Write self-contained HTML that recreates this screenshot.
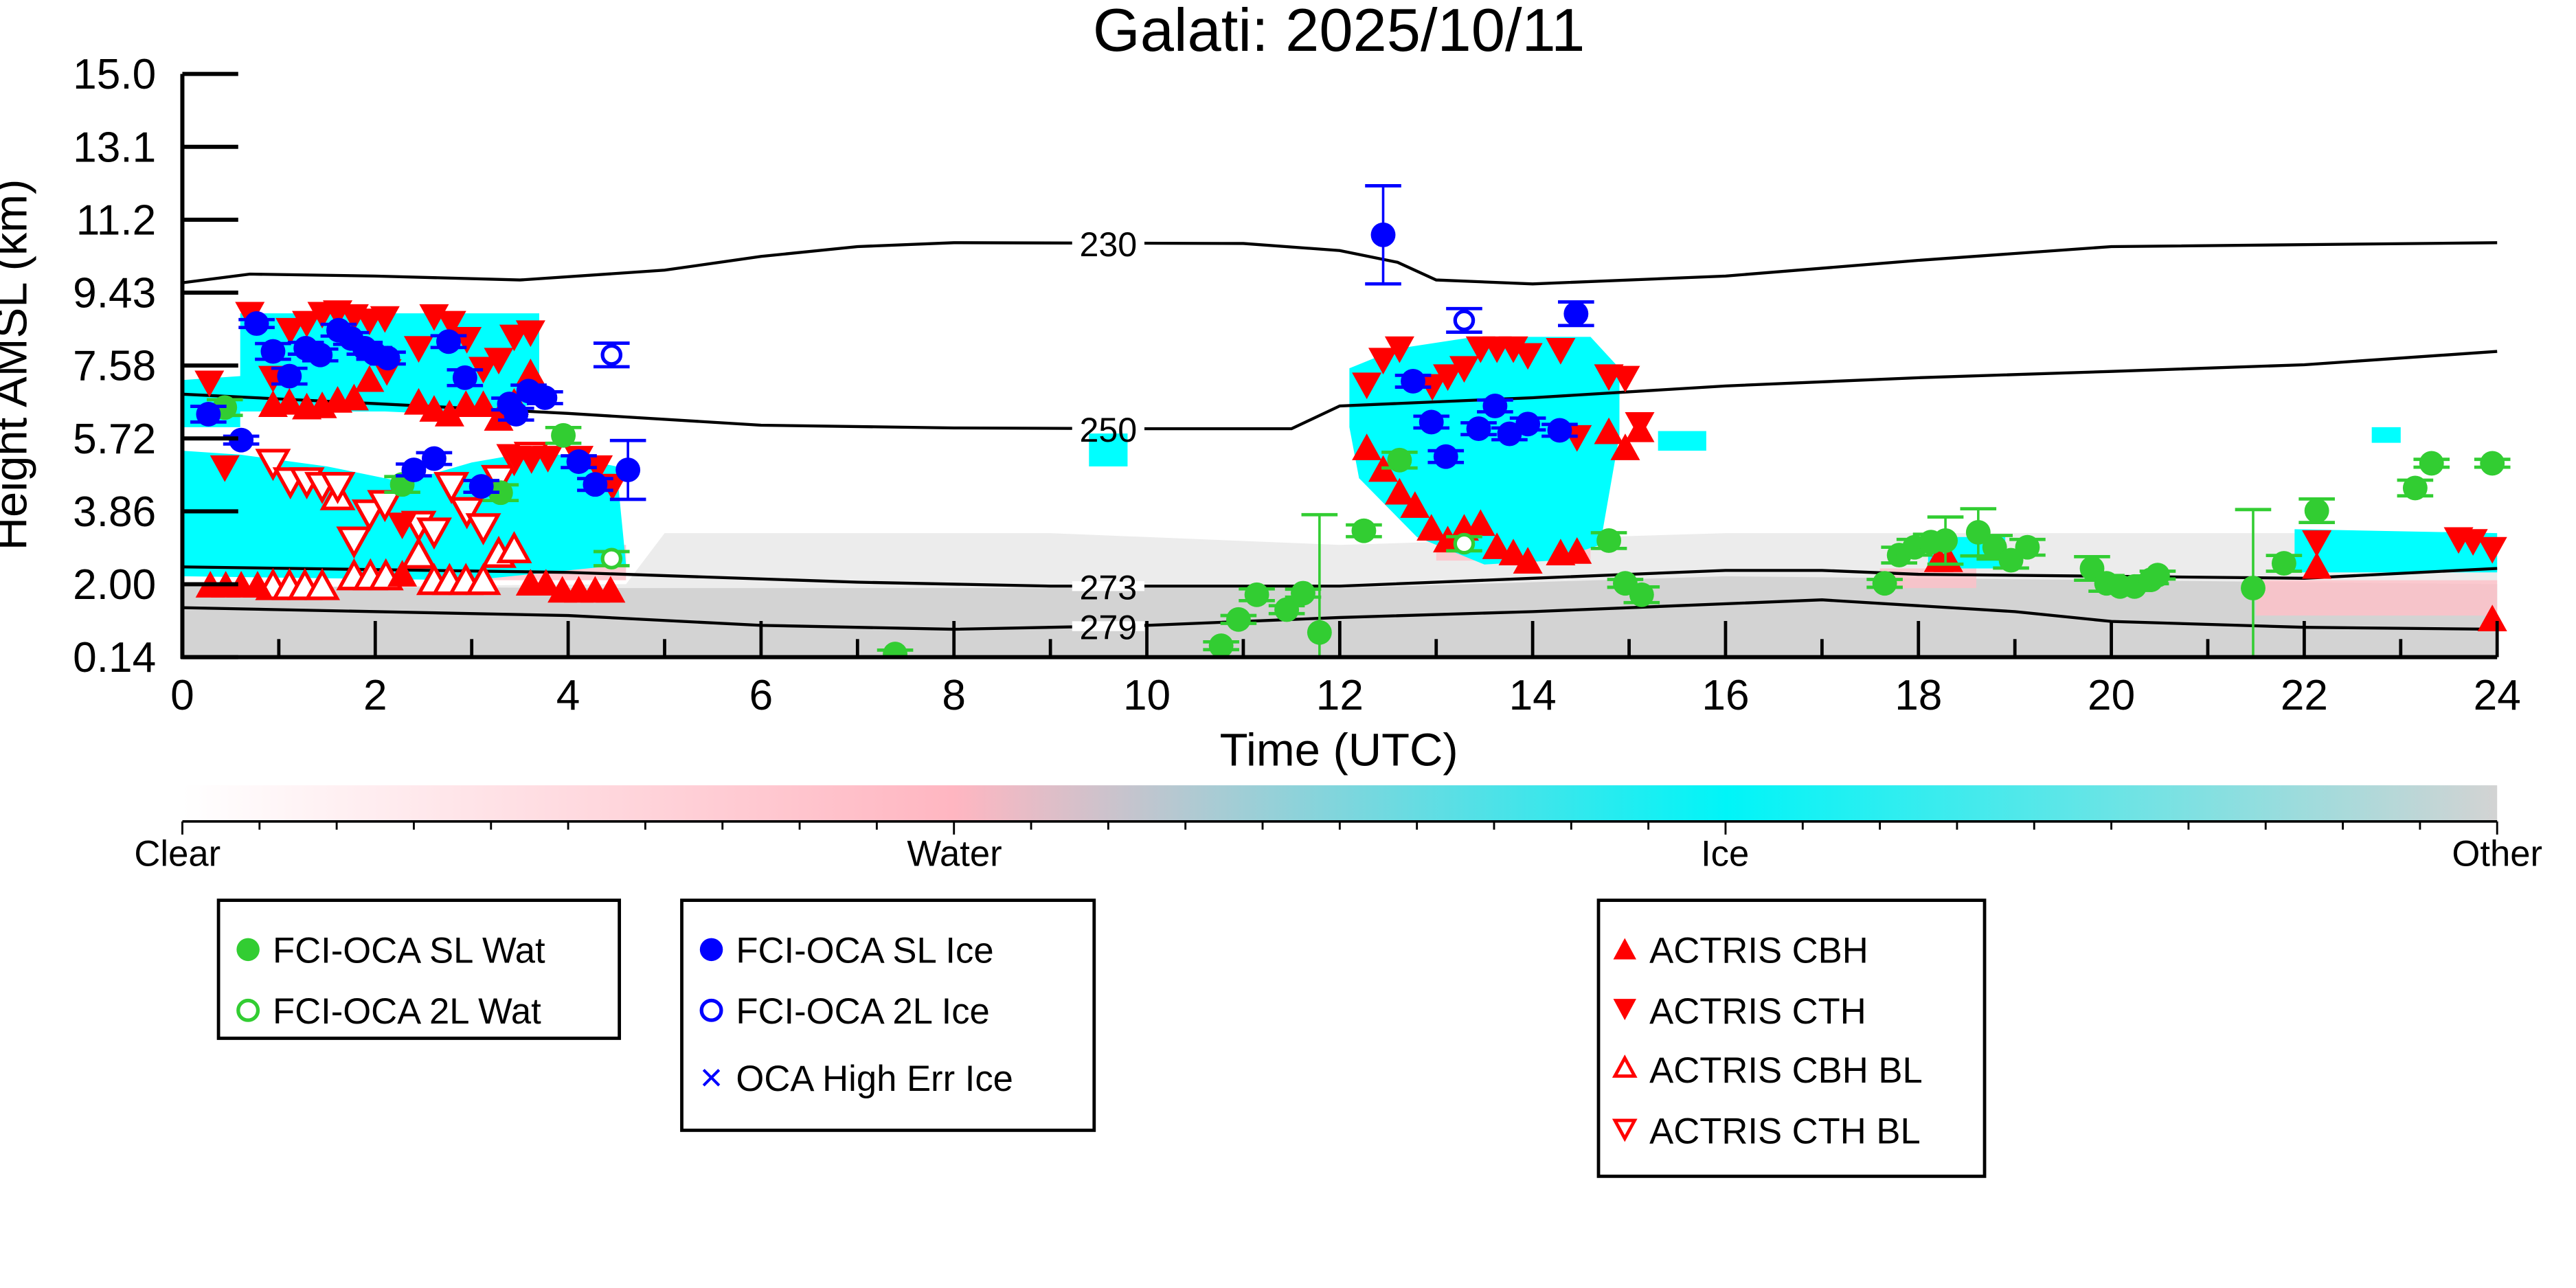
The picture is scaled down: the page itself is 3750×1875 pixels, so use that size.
<!DOCTYPE html>
<html><head><meta charset="utf-8"><style>html,body{margin:0;padding:0;background:#fff}svg{display:block}text{font-family:"Liberation Sans",sans-serif}</style></head>
<body>
<svg id="chart" xmlns="http://www.w3.org/2000/svg" width="3750" height="1875" viewBox="0 0 1568 784">
<defs>
<clipPath id="plotclip"><rect x="111" y="40" width="1420" height="360"/></clipPath>
<linearGradient id="cb" x1="0" x2="1"><stop offset="0" stop-color="#fff"/><stop offset="0.333" stop-color="#ffb6c1"/><stop offset="0.667" stop-color="#00f5f8"/><stop offset="1" stop-color="#d3d3d3"/></linearGradient>
</defs>
<rect width="1568" height="784" fill="#fff"/>
<g id="bg" clip-path="url(#plotclip)"></g>
<g id="contours"></g>
<g id="marks" clip-path="url(#plotclip)"></g>
<g id="axes"></g>
<text x="815" y="31" font-size="37" text-anchor="middle">Galati: 2025/10/11</text>
<text x="815" y="466" font-size="28" text-anchor="middle">Time (UTC)</text>
<text transform="translate(16,222) rotate(-90)" font-size="28" text-anchor="middle">Height AMSL (km)</text>
<g>
<rect x="111" y="478" width="1409" height="22" fill="url(#cb)"/>
<line x1="111" y1="500" x2="1520" y2="500" stroke="#000" stroke-width="1.5"/>
<g id="cbticks"></g>
<text x="108" y="527" font-size="22" text-anchor="middle">Clear</text>
<text x="581" y="527" font-size="22" text-anchor="middle">Water</text>
<text x="1050" y="527" font-size="22" text-anchor="middle">Ice</text>
<text x="1520" y="527" font-size="22" text-anchor="middle">Other</text>
</g>
<g>
<rect x="133" y="548" width="244" height="84" fill="#fff" stroke="#000" stroke-width="2"/>
<circle cx="151" cy="578" r="7" fill="#32cd32"/><text x="166" y="586" font-size="22">FCI-OCA SL Wat</text>
<circle cx="151" cy="615" r="6" fill="none" stroke="#32cd32" stroke-width="2.2"/><text x="166" y="623" font-size="22">FCI-OCA 2L Wat</text>
</g>
<g>
<rect x="415" y="548" width="251" height="140" fill="#fff" stroke="#000" stroke-width="2"/>
<circle cx="433" cy="578" r="7" fill="#0000ff"/><text x="448" y="586" font-size="22">FCI-OCA SL Ice</text>
<circle cx="433" cy="615" r="6" fill="none" stroke="#0000ff" stroke-width="2.2"/><text x="448" y="623" font-size="22">FCI-OCA 2L Ice</text>
<text x="433" y="664" font-size="24" fill="#0000ff" text-anchor="middle">×</text><text x="448" y="664" font-size="22">OCA High Err Ice</text>
</g>
<g>
<rect x="973" y="548" width="235" height="168" fill="#fff" stroke="#000" stroke-width="2"/>
<polygon points="989,571 996,584 982,584" fill="#f00"/><text x="1004" y="586" font-size="22">ACTRIS CBH</text>
<polygon points="989,621 996,608 982,608" fill="#f00"/><text x="1004" y="623" font-size="22">ACTRIS CTH</text>
<polygon points="989,644 995,655 983,655" fill="none" stroke="#f00" stroke-width="2"/><text x="1004" y="659" font-size="22">ACTRIS CBH BL</text>
<polygon points="989,693 995,682 983,682" fill="none" stroke="#f00" stroke-width="2"/><text x="1004" y="696" font-size="22">ACTRIS CTH BL</text>
</g>
<script>
// ---- data ----
const yTicks=["15.0","13.1","11.2","9.43","7.58","5.72","3.86","2.00","0.14"];
const xTicks=[0,2,4,6,8,10,12,14,16,18,20,22,24];
const slWatT=[0.44,2.28,3.30,3.95,12.25,12.62,10.77,10.95,11.14,11.45,11.62,11.79,14.79,14.96,15.13,17.65,17.80,17.96,18.13,18.28,18.62,18.79,18.96,19.13,19.80,19.95,20.09,20.24,20.41,20.48,21.47,21.79,22.13,23.15,23.32,23.95,7.39];
const slWatH=[6.50,4.54,4.33,5.79,3.36,5.16,0.43,1.10,1.73,1.35,1.77,0.77,3.11,2.02,1.73,2.02,2.74,2.94,3.07,3.11,3.32,2.94,2.61,2.94,2.40,2.02,1.94,1.94,2.11,2.23,1.90,2.53,3.87,4.45,5.08,5.08,0.22];
const slWatE=[0.2,0.2,0.2,0.2,0.15,0.2,0.1,0.1,0.15,0.1,0.1,3.0,0.2,0.1,0.2,0.1,0.2,0.2,0.2,0.6,0.6,0.3,0.2,0.2,0.3,0.2,0.1,0.1,0.1,0.1,2.0,0.2,0.3,0.2,0.1,0.1,0.1];
const twoLWatT=[4.45,13.29];
const twoLWatH=[2.65,3.03];
const slIceT=[0.27,0.61,0.77,0.94,1.11,1.28,1.43,1.62,1.75,1.89,1.99,2.13,2.76,2.40,2.61,2.93,3.10,3.39,3.46,3.59,3.76,4.11,4.28,4.62,12.45,12.76,12.95,13.10,13.44,13.61,13.76,13.95,14.28,14.45];
const slIceH=[6.33,5.67,8.64,7.93,7.30,8.01,7.84,8.47,8.26,8.01,7.88,7.76,8.18,4.91,5.20,7.26,4.49,6.59,6.33,6.92,6.75,5.12,4.54,4.91,10.90,7.17,6.13,5.25,5.96,6.54,5.83,6.08,5.92,8.89];
const slIceE=[0.2,0.1,0.1,0.2,0.2,0.15,0.15,0.15,0.15,0.15,0.15,0.15,0.15,0.15,0.15,0.2,0.15,0.15,0.15,0.15,0.15,0.15,0.15,0.75,1.25,0.15,0.15,0.15,0.15,0.15,0.15,0.15,0.15,0.3];
const twoLIceT=[4.45,13.29];
const twoLIceH=[7.84,8.72];
const cthT=[0.70,0.28,1.12,1.29,1.45,1.61,1.78,1.94,2.10,0.94,2.12,0.44,2.45,2.61,2.79,2.95,3.12,3.28,3.44,3.61,2.28,3.46,3.62,3.79,4.11,4.31,4.46,12.28,12.45,12.62,12.96,13.12,13.29,13.46,13.63,13.80,13.95,14.29,14.46,14.79,14.96,15.11,22.13,23.6,23.75,23.95];
const cthH=[8.89,7.14,8.48,8.66,8.89,8.93,8.83,8.72,8.78,7.26,7.43,4.98,8.02,8.83,8.66,8.25,7.49,7.72,8.31,8.42,3.52,5.22,5.22,5.22,5.22,4.98,4.51,7.09,7.72,8.01,7.05,7.30,7.51,8.01,8.01,8.01,7.84,7.97,5.75,7.30,7.26,6.08,3.07,3.15,3.10,2.90];
const cbhT=[0.94,1.11,1.29,1.45,1.61,1.78,1.94,2.45,2.61,2.77,2.94,3.12,3.28,3.44,3.61,0.29,0.45,0.61,0.78,2.28,3.61,3.77,3.94,4.11,4.28,4.44,12.28,12.45,12.62,12.78,12.95,13.12,13.29,13.46,13.63,13.80,13.95,14.29,14.46,14.79,14.96,15.11,18.21,18.31,22.13,23.95];
const cbhH=[6.56,6.62,6.50,6.53,6.67,6.73,7.20,6.62,6.44,6.32,6.56,6.56,6.21,6.62,7.37,1.96,1.96,1.96,1.96,2.24,2.01,2.01,1.83,1.83,1.83,1.83,5.46,4.91,4.33,3.99,3.41,3.11,3.41,3.53,2.94,2.78,2.57,2.78,2.82,5.87,5.46,5.92,2.61,2.61,2.44,1.10];
const cbhBlT=[0.94,1.11,1.27,1.45,1.61,1.78,1.95,2.11,2.45,2.61,2.77,2.94,3.12,3.28,3.44];
const cbhBlH=[1.94,1.94,1.94,1.94,4.23,2.19,2.19,2.19,2.74,2.07,2.07,2.07,2.07,2.76,2.88];
const cthBlT=[0.94,1.12,1.29,1.45,1.61,1.78,1.94,2.10,2.45,2.61,2.79,2.95,3.12,3.28,3.44,3.62];
const cthBlH=[5.10,4.63,4.63,4.51,4.51,3.12,3.81,4.05,3.52,3.35,4.51,3.87,3.46,4.69,5.22,5.28];
const c230T=[0,0.7,2,3.5,5,6,7,8,11,12,12.6,13,14,16,18,20,24];
const c230H=[9.68,9.9,9.85,9.75,10.0,10.35,10.6,10.7,10.68,10.5,10.2,9.75,9.65,9.85,10.25,10.6,10.7];
const c250T=[0,2,4,6,8,10,11.5,12,14,16,18,20,22,24];
const c250H=[6.84,6.6,6.35,6.05,5.98,5.96,5.96,6.54,6.75,7.05,7.26,7.42,7.59,7.93];
const c273T=[0,4,7,9,12,14,16,17,18,20,22,24];
const c273H=[2.44,2.3,2.05,1.95,1.95,2.15,2.35,2.35,2.25,2.2,2.15,2.4];
const c279T=[0,4,6,8,10,12,14,17,19,20,22,24];
const c279H=[1.40,1.2,0.95,0.85,0.95,1.15,1.3,1.6,1.3,1.05,0.9,0.85];

// ---- scales ----
const X0=111,X1=1520,Y0=400,Y1=45,HMIN=0.14,HMAX=15.0;
const sx=t=>X0+t/24*(X1-X0);
const sy=h=>Y0-(h-HMIN)/(HMAX-HMIN)*(Y0-Y1);
const NS="http://www.w3.org/2000/svg";
function mk(tag,parent,attrs){const e=document.createElementNS(NS,tag);for(const k in attrs)e.setAttribute(k,attrs[k]);parent.appendChild(e);return e;}

// ---- background phase field (approximate) ----
const bg=document.getElementById('bg');
const gray=mk('path',bg,{d:`M${sx(0)},${sy(1.9)} L${sx(4.6)},${sy(2.0)} L${sx(5)},${sy(3.3)} L${sx(9)},${sy(3.3)} L${sx(12)},${sy(3.0)} L${sx(16)},${sy(3.3)} L${sx(24)},${sy(3.3)} L${sx(24)},${sy(0.14)} L${sx(0)},${sy(0.14)} Z`,fill:'#ececec'});


const gray2=mk('path',bg,{d:`M${sx(0)},${sy(1.95)} L${sx(4.5)},${sy(1.9)} L${sx(8)},${sy(1.9)} L${sx(12)},${sy(1.9)} L${sx(16)},${sy(2.2)} L${sx(24)},${sy(2.0)} L${sx(24)},${sy(0.14)} L${sx(0)},${sy(0.14)} Z`,fill:'#d3d3d3'});


const pinks=[[21.5,24,1.2,2.1],[13.0,14.6,2.6,3.3],[3.2,4.6,2.1,3.0],[17.6,18.6,1.9,2.4]];
pinks.forEach(p=>{const r=mk('rect',bg,{x:sx(p[0]),y:sy(p[3]),width:sx(p[1])-sx(p[0]),height:sy(p[2])-sy(p[3]),fill:'#ffc0c8',opacity:0.8});

});
const cyanPolys=[
 [[0,7.2],[0.6,7.3],[0.6,8.9],[3.7,8.9],[3.7,6.6],[3.0,6.3],[2.1,6.4],[0.6,6.4],[0.6,6.0],[0,6.0]],
 [[0,5.4],[0.6,5.3],[1.5,5.0],[2.3,4.6],[3.0,5.1],[3.7,5.4],[4.5,5.0],[4.6,2.5],[3.0,2.1],[0,2.2]],
 [[12.1,7.5],[12.6,8.0],[13.4,8.3],[14.6,8.3],[14.9,7.5],[14.9,5.8],[14.7,3.0],[14.2,2.6],[13.5,2.5],[12.8,3.2],[12.2,4.7],[12.1,6.0]],
 [[9.4,5.9],[9.8,5.9],[9.8,5.0],[9.4,5.0]],
 [[15.3,5.9],[15.8,5.9],[15.8,5.4],[15.3,5.4]],
 [[22.7,6.0],[23.0,6.0],[23.0,5.6],[22.7,5.6]],
 [[21.9,3.4],[24,3.3],[24,2.3],[21.9,2.3]],
 [[18.1,3.2],[18.9,3.2],[18.9,2.4],[18.1,2.4]]
];
cyanPolys.forEach(pts=>{const p=mk('polygon',bg,{points:pts.map(q=>sx(q[0])+','+sy(q[1])).join(' '),fill:'#00ffff'});

});

// ---- contours ----
const cg=document.getElementById('contours');
[[c230T,c230H,'230',9.6],[c250T,c250H,'250',9.6],[c273T,c273H,'273',9.6],[c279T,c279H,'279',9.6]].forEach(c=>{
 const pl=mk('polyline',cg,{points:c[0].map((t,i)=>sx(t)+','+sy(c[1][i])).join(' '),fill:'none',stroke:'#000','stroke-width':1.8});
 
 
 let i=c[0].findIndex(t=>t>c[3]);const t0=c[0][i-1],t1=c[0][i];const h=c[1][i-1]+(c[1][i]-c[1][i-1])*(c[3]-t0)/(t1-t0);
 mk('rect',cg,{x:sx(c[3])-22,y:sy(h)-3,width:44,height:6,fill:'#fff'});
 const tx=mk('text',cg,{x:sx(c[3]),y:sy(h)+8,'font-size':21,'text-anchor':'middle'});tx.textContent=c[2];
 
 
});

// ---- marks ----
const mg=document.getElementById('marks');
function errbar(t,h,e,col){
 mk('line',mg,{x1:sx(t),x2:sx(t),y1:sy(h+e),y2:sy(h-e),stroke:col,'stroke-width':1.5});
 mk('line',mg,{x1:sx(t)-11,x2:sx(t)+11,y1:sy(h+e),y2:sy(h+e),stroke:col,'stroke-width':2});
 mk('line',mg,{x1:sx(t)-11,x2:sx(t)+11,y1:sy(h-e),y2:sy(h-e),stroke:col,'stroke-width':2});
}
function tri(t,h,up,fill,name){
 const x=sx(t),y=sy(h),s=9;
 const pts=up?`${x},${y-s} ${x+s},${y+s*0.8} ${x-s},${y+s*0.8}`:`${x},${y+s} ${x+s},${y-s*0.8} ${x-s},${y-s*0.8}`;
 const p=mk('polygon',mg,{points:pts,fill:fill?'#f00':'#fff',stroke:'#f00','stroke-width':fill?0:2.2});
 
 
}
cbhBlT.forEach((t,i)=>tri(t,cbhBlH[i],true,false,'actris-cbh-bl-marker'));
cthBlT.forEach((t,i)=>tri(t,cthBlH[i],false,false,'actris-cth-bl-marker'));
cbhT.forEach((t,i)=>tri(t,cbhH[i],true,true,'actris-cbh-marker'));
cthT.forEach((t,i)=>tri(t,cthH[i],false,true,'actris-cth-marker'));
function dot(t,h,e,col,filled,name){
 if(e!==null) errbar(t,h,e,col);
 const c=mk('circle',mg,{cx:sx(t),cy:sy(h),r:filled?7.5:5.5,fill:filled?col:'#fff',stroke:col,'stroke-width':filled?0:2.2});
 
 
}
slWatT.forEach((t,i)=>dot(t,slWatH[i],slWatE[i],'#32cd32',true,'oca-sl-water-point'));
twoLWatT.forEach((t,i)=>dot(t,twoLWatH[i],0.18,'#32cd32',false,'oca-2l-water-point'));
slIceT.forEach((t,i)=>dot(t,slIceH[i],slIceE[i],'#0000ff',true,'oca-sl-ice-point'));
twoLIceT.forEach((t,i)=>dot(t,twoLIceH[i],0.3,'#0000ff',false,'oca-2l-ice-point'));

// ---- axes ----
const ax=document.getElementById('axes');
mk('line',ax,{x1:X0,x2:X0,y1:Y1,y2:Y0+1,stroke:'#000','stroke-width':2.5});
mk('line',ax,{x1:X0-1,x2:X1,y1:Y0,y2:Y0,stroke:'#000','stroke-width':2.5});
yTicks.forEach((lab,i)=>{const y=Y1+i*(Y0-Y1)/(yTicks.length-1);
 mk('line',ax,{x1:X0,x2:X0+34,y1:y,y2:y,stroke:'#000','stroke-width':2.5});
 const t=mk('text',ax,{x:X0-16,y:y+9,'font-size':26,'text-anchor':'end'});t.textContent=lab;
 
 });
for(let h=1;h<24;h+=2){mk('line',ax,{x1:sx(h),x2:sx(h),y1:Y0,y2:Y0-11,stroke:'#000','stroke-width':2});}
xTicks.forEach(v=>{const x=sx(v);
 mk('line',ax,{x1:x,x2:x,y1:Y0,y2:Y0-22,stroke:'#000','stroke-width':2});
 const t=mk('text',ax,{x:x,y:432,'font-size':26,'text-anchor':'middle'});t.textContent=v;
 
 });
const cbt=document.getElementById('cbticks');
for(let i=0;i<=30;i++){const x=111+i*1409/30;mk('line',cbt,{x1:x,x2:x,y1:500,y2:i%10==0?508:505,stroke:'#000','stroke-width':1.2});}
</script>
</svg>
</body></html>
